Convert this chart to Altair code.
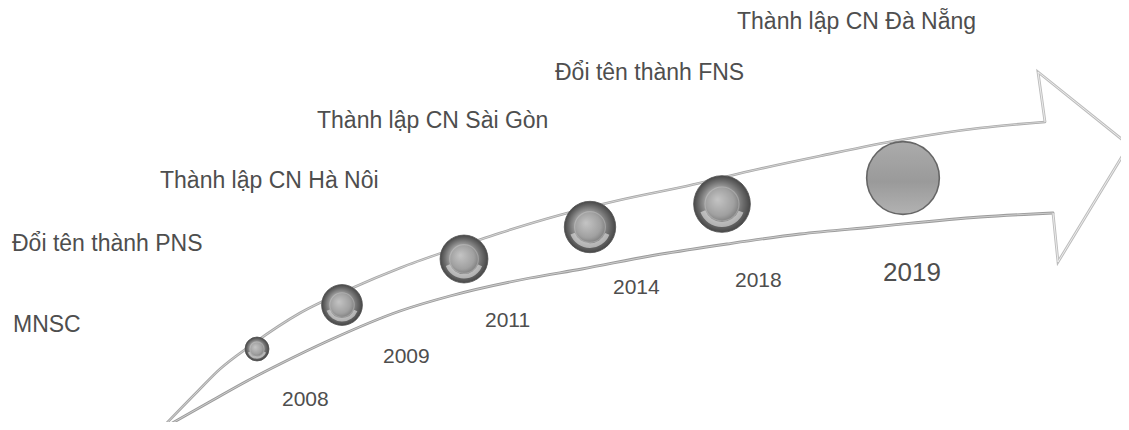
import math
import altair as alt
import pandas as pd

# ---- arrow outline (layout coordinates in px of the picture) ----
upper_x = [160, 197, 220, 250, 300, 350, 400, 450, 500, 560, 620, 687, 750, 820, 900, 980, 1045]
upper_y = [430, 392, 369, 346, 313, 289, 268, 250, 233, 215, 200, 186, 171, 156, 140, 128, 122]
lower_x = [160, 213, 247, 280, 330, 400, 450, 530, 582, 650, 727, 800, 873, 980, 1053]
lower_y = [430, 400, 381, 364, 340, 311, 296, 278, 269, 256, 244, 234, 227, 217, 213]
head_x = [1045, 1038, 1129, 1058, 1053]
head_y = [122, 72, 145, 262, 213]

# ---- milestones ----
years = ["2008", "2009", "2011", "2014", "2018", "2019"]
bubble_x = [257, 342, 464, 590, 722, 903]
bubble_y = [349, 305, 259, 227, 204, 178]
bubble_d = [27, 46, 54, 58, 64, 82]
year_x = [282, 383, 485, 613, 735, 883]
year_y = [406, 363, 327, 294, 287, 281]

events = ["MNSC", "Đổi tên thành PNS", "Thành lập CN Hà Nôi",
          "Thành lập CN Sài Gòn", "Đổi tên thành FNS", "Thành lập CN Đà Nẵng"]
event_x = [13, 12, 160, 317, 555, 737]
event_y = [332, 251, 188, 128, 80, 29]

W, H = 1113, 414
xs = alt.Scale(domain=[8, 8 + W], nice=False, zero=False)
ys = alt.Scale(domain=[8, 8 + H], nice=False, zero=False, reverse=True)
X = alt.X("x:Q", scale=xs, axis=None)
Y = alt.Y("y:Q", scale=ys, axis=None)

upper = pd.DataFrame({"x": upper_x, "y": upper_y})
lower = pd.DataFrame({"x": lower_x, "y": lower_y})
head = pd.DataFrame({"x": head_x, "y": head_y, "i": range(len(head_x))})

def edge(df, color, width):
    return alt.Chart(df).mark_line(interpolate="monotone", stroke=color,
                                   strokeWidth=width, strokeCap="round").encode(x=X, y=Y)

def head_line(color, width):
    return alt.Chart(head).mark_line(stroke=color, strokeWidth=width,
                                     strokeJoin="miter").encode(
        x=X, y=Y, order=alt.Order("i:Q"))

arrow = alt.layer(
    edge(upper, "#a8a8a8", 2.6), edge(upper, "#e4e4e4", 0.7),
    edge(lower, "#9c9c9c", 2.8), edge(lower, "#e2e2e2", 0.7),
    head_line("#bdbdbd", 2.8), head_line("#f2f2f2", 0.9),
)

bub = pd.DataFrame({"x": bubble_x, "y": bubble_y, "d": bubble_d})
bub["s"] = math.pi * (bub["d"] / 2) ** 2
bub["s_in"] = math.pi * (bub["d"] * 0.3) ** 2
bub["r_out"] = bub["d"] * 0.36
bub["r_in"] = bub["d"] * 0.28
small = bub.iloc[:-1]
big = bub.iloc[-1:]

metallic = {"gradient": "radial", "x1": 0.42, "y1": 0.42, "r1": 0.0,
            "x2": 0.5, "y2": 0.5, "r2": 0.5,
            "stops": [{"offset": 0, "color": "#c4c4c4"},
                      {"offset": 0.5, "color": "#a0a0a0"},
                      {"offset": 0.8, "color": "#696969"},
                      {"offset": 1, "color": "#474747"}]}
flat = {"gradient": "linear", "x1": 0, "y1": 0, "x2": 0, "y2": 1,
        "stops": [{"offset": 0, "color": "#ababab"},
                  {"offset": 0.55, "color": "#9a9a9a"},
                  {"offset": 1, "color": "#b2b2b2"}]}

bubbles = alt.layer(
    alt.Chart(small).mark_point(shape="circle", filled=True, fill=metallic,
                                stroke="#4f4f4f", strokeWidth=0.8, opacity=1).encode(
        x=X, y=Y, size=alt.Size("s:Q", scale=None)),
    alt.Chart(small).mark_point(shape="circle", filled=False, stroke="#e0e0e0",
                                strokeWidth=1.2, opacity=0.3).encode(
        x=X, y=Y, size=alt.Size("s_in:Q", scale=None)),
    alt.Chart(small).mark_arc(theta=1.95, theta2=4.35, fill="#e6e6e6",
                              opacity=0.6).encode(
        x=X, y=Y, radius=alt.Radius("r_out:Q", scale=None),
        radius2=alt.Radius2("r_in:Q")),
    alt.Chart(big).mark_point(shape="circle", filled=True, fill=flat,
                              stroke="#666666", strokeWidth=1.6, opacity=1).encode(
        x=X, y=Y, size=alt.Size("s:Q", scale=None)),
)

yr = pd.DataFrame({"x": year_x, "y": year_y, "t": years})
ev = pd.DataFrame({"x": event_x, "y": event_y, "t": events})

texts = alt.layer(
    alt.Chart(ev).mark_text(align="left", baseline="alphabetic", font="Liberation Sans",
                            fontSize=23, color="#4e4e4e").encode(x=X, y=Y, text="t:N"),
    alt.Chart(yr.iloc[:-1]).mark_text(align="left", baseline="alphabetic",
                                      font="Liberation Sans", fontSize=21,
                                      color="#4e4e4e").encode(x=X, y=Y, text="t:N"),
    alt.Chart(yr.iloc[-1:]).mark_text(align="left", baseline="alphabetic",
                                      font="Liberation Sans", fontSize=26,
                                      color="#4e4e4e").encode(x=X, y=Y, text="t:N"),
)

chart = alt.layer(arrow, bubbles, texts).properties(
    width=W, height=H, padding=0, autosize="none", background="white"
).configure_view(strokeWidth=0)

chart.save("out.html", embed_options={"renderer": "svg", "actions": False})
